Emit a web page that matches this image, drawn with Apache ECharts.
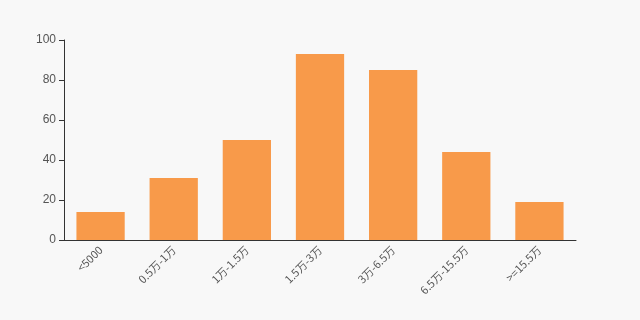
<!DOCTYPE html>
<html><head><meta charset="utf-8">
<script src="https://cdn.jsdelivr.net/npm/echarts@6/dist/echarts.min.js"></script>
<style>html,body{margin:0;padding:0;background:#f8f8f8}#c{width:640px;height:320px}</style>
</head><body><div id="c"></div>
<script>
const categories = ['<5000','0.5万-1万','1万-1.5万','1.5万-3万','3万-6.5万','6.5万-15.5万','>=15.5万'];
const values = [14, 31, 50, 93, 85, 44, 19];
const chart = echarts.init(document.getElementById('c'));
chart.setOption({
  backgroundColor: '#f8f8f8',
  animation: false,
  grid: {left: 64, right: 64, top: 40, bottom: 80},
  xAxis: {
    type: 'category', data: categories,
    axisLine: {lineStyle: {color: '#333'}},
    axisTick: {alignWithLabel: false, lineStyle: {color: '#333'}},
    axisLabel: {rotate: 45, color: '#555', fontSize: 11, interval: 0, fontFamily: 'Noto Sans CJK SC'}
  },
  yAxis: {
    type: 'value', min: 0, max: 100, interval: 20,
    splitLine: {show: false},
    axisLine: {show: true, lineStyle: {color: '#333'}},
    axisTick: {show: true, lineStyle: {color: '#333'}},
    axisLabel: {color: '#555', fontSize: 12}
  },
  series: [{type: 'bar', data: values, barWidth: '66%', itemStyle: {color: '#f89a4a'}}]
});
</script></body></html>
